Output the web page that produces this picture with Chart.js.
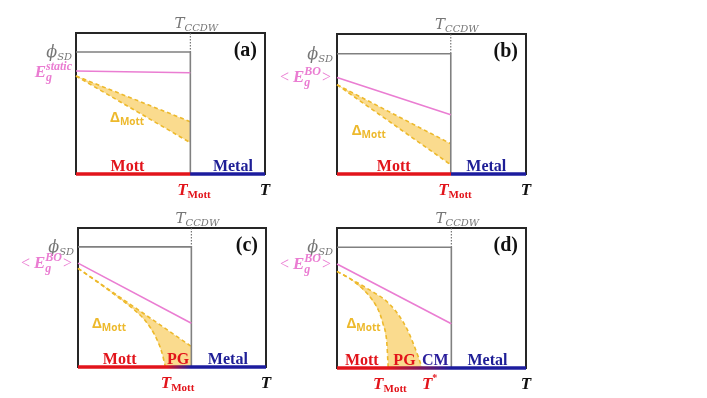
<!DOCTYPE html>
<html><head><meta charset="utf-8">
<script src="https://cdn.jsdelivr.net/npm/chart.js@4.4.1/dist/chart.umd.min.js"></script>
<style>
html,body{margin:0;padding:0;background:#fff;width:707px;height:398px;overflow:hidden}
.p{position:absolute}
</style></head><body>
<div class="p" id="w0"><canvas id="c0" width="290" height="200"></canvas></div>
<div class="p" id="w1"><canvas id="c1" width="290" height="200"></canvas></div>
<div class="p" id="w2"><canvas id="c2" width="290" height="200"></canvas></div>
<div class="p" id="w3"><canvas id="c3" width="290" height="200"></canvas></div>
<script>
// ---- data (T on x: 0..1, energy on y: 0..1) ----
const panelNames = ['(a)', '(b)', '(c)', '(d)'];
const tCCDW = [0.605, 0.602, 0.603, 0.605];
const phiSD = [0.865, 0.859, 0.864, 0.862];
const egStart = [0.73, 0.69, 0.747, 0.743];
const egEnd = [0.718, 0.424, 0.315, 0.316];
const egLabel = ['static', 'BO', 'BO', 'BO'];
const deltaUpperT = [[0, 0.605], [0, 0.602], [0, 0.603], [0, 0.1, 0.2, 0.26, 0.32, 0.37, 0.405, 0.43, 0.45]];
const deltaUpperE = [[0.695, 0.371], [0.638, 0.216], [0.71, 0.148], [0.69, 0.615, 0.535, 0.48, 0.39, 0.28, 0.17, 0.08, 0]];
const deltaLowerT = [[0, 0.605], [0, 0.602], [0, 0.1, 0.2, 0.3, 0.36, 0.41, 0.445, 0.465], [0, 0.077, 0.165, 0.218, 0.245, 0.263, 0.271]];
const deltaLowerE = [[0.695, 0.222], [0.638, 0.066], [0.71, 0.615, 0.515, 0.41, 0.33, 0.225, 0.11, 0], [0.69, 0.63, 0.524, 0.416, 0.309, 0.19, 0]];
const tMott = [0.605, 0.602, 0.47, 0.27];
const regionNames = [['Mott', 'Metal'], ['Mott', 'Metal'], ['Mott', 'PG', 'Metal'], ['Mott', 'PG', 'CM', 'Metal']];

// ---- layout (positions / styles) ----
const boxes = [{l:76,t:33,w:189,h:141},{l:337,t:34,w:189,h:140},{l:78,t:228,w:188,h:139},{l:337,t:228,w:189,h:140}];
const deltaLabelPos = [[0.18, 0.404], [0.078, 0.316], [0.074, 0.315], [0.05, 0.32]];
const regionPos = [[0.272, 0.83], [0.30, 0.79], [0.222, 0.532, 0.797], [0.131, 0.357, 0.52, 0.796]];
const tMottLabelX = [0.624, 0.624, 0.53, 0.28];
const tStarLabelX = [null, null, null, 0.49];

const LS = '"Liberation Serif", "Times New Roman", serif';
const DS = '"DejaVu Serif", serif';
const OS = '"Open Sans", sans-serif';
const RED = '#E2141B', BLUE = '#1C1C9E', GRAY = '#808080', PINK = '#EA7DD2', GOLD = '#EDB92C', FILL = '#FADB8E';
const regionColor = {Mott: RED, PG: RED, CM: '#2A1E9C', Metal: '#1E1E96'};

function pts(ts, es) { return ts.map((t, k) => ({x: t, y: es[k]})); }

function drawRich(ctx, x, y, segs, align, color) {
  const ws = []; let w = 0;
  for (const s of segs) {
    ctx.font = s.f;
    let sw = s.sup !== undefined ? Math.max(ctx.measureText(s.sup).width, ctx.measureText(s.sub).width) : ctx.measureText(s.t).width;
    sw += (s.gap || 0); ws.push(sw); w += sw;
  }
  let cx = align === 'right' ? x - w : align === 'center' ? x - w / 2 : x;
  ctx.textBaseline = 'alphabetic'; ctx.textAlign = 'left';
  segs.forEach((s, k) => {
    ctx.fillStyle = s.c || color; ctx.font = s.f;
    if (s.sup !== undefined) {
      ctx.fillText(s.sup, cx, y + s.dsup);
      ctx.fillText(s.sub, cx, y + s.dsub);
    } else ctx.fillText(s.t, cx, y + (s.dy || 0));
    cx += ws[k];
  });
}

const boxPlugin = {
  id: 'boxFrame',
  beforeDatasetsDraw(chart) {
    const a = chart.chartArea, ctx = chart.ctx;
    ctx.save(); ctx.strokeStyle = '#262626'; ctx.lineWidth = 2;
    ctx.strokeRect(a.left, a.top, a.width, a.height); ctx.restore();
  }
};

const textPlugin = {
  id: 'panelText',
  afterDraw(chart, args, opts) {
    const i = opts.idx, ctx = chart.ctx, a = chart.chartArea;
    const xs = chart.scales.x, ys = chart.scales.y;
    const px = v => xs.getPixelForValue(v), py = v => ys.getPixelForValue(v);
    ctx.save();
    // T_CCDW
    drawRich(ctx, px(tCCDW[i]) + 6, a.top - 5, [
      {t: 'T', f: 'italic 15px ' + DS},
      {t: 'CCDW', f: 'italic 10px ' + DS, dy: 3}], 'center', '#767676');
    // phi_SD
    drawRich(ctx, a.left - 4, py(phiSD[i]) + 5, [
      {t: '\u03D5', f: 'italic 16px ' + DS},
      {t: 'SD', f: 'italic 10px ' + DS, dy: 3}], 'right', '#767676');
    // E_g label
    if (egLabel[i] === 'static') {
      drawRich(ctx, a.left - 4, py(egStart[i]) + 6, [
        {t: 'E', f: 'bold italic 17px ' + LS},
        {sup: 'static', sub: 'g', f: 'bold italic 12px ' + LS, dsup: -7, dsub: 4}], 'right', PINK);
    } else {
      drawRich(ctx, a.left - 6, py(egStart[i]) + 5, [
        {t: '<', f: '16px ' + LS, gap: 4},
        {t: 'E', f: 'bold italic 17px ' + LS},
        {sup: egLabel[i], sub: 'g', f: 'bold italic 12px ' + LS, dsup: -7, dsub: 4, gap: 1},
        {t: '>', f: '16px ' + LS}], 'right', PINK);
    }
    // panel name
    drawRich(ctx, a.right - 8, a.top + 23, [{t: panelNames[i], f: 'bold 20px ' + LS}], 'right', '#111');
    // Delta_Mott
    const dp = deltaLabelPos[i];
    drawRich(ctx, px(dp[0]), py(dp[1]) + 5, [
      {t: '\u0394', f: 'bold 15px ' + OS},
      {t: 'Mott', f: 'bold 10px ' + OS, dy: 3}], 'left', GOLD);
    // regions
    regionNames[i].forEach((n, k) => {
      drawRich(ctx, px(regionPos[i][k]), a.bottom - 3.5, [{t: n, f: 'bold 16px ' + LS}], 'center', regionColor[n]);
    });
    // bottom temperature labels
    drawRich(ctx, px(tMottLabelX[i]), a.bottom + 21, [
      {t: 'T', f: 'bold italic 17px ' + LS},
      {t: 'Mott', f: 'bold 11px ' + LS, dy: 3}], 'center', RED);
    if (tStarLabelX[i] !== null) {
      drawRich(ctx, px(tStarLabelX[i]), a.bottom + 21, [
        {t: 'T', f: 'bold italic 17px ' + LS},
        {t: '*', f: 'bold 10px ' + LS, dy: -8}], 'center', RED);
    }
    drawRich(ctx, px(1), a.bottom + 21, [{t: 'T', f: 'bold italic 17px ' + LS}], 'center', '#111');
    ctx.restore();
  }
};

function makePanel(i) {
  const b = boxes[i];
  const wrap = document.getElementById('w' + i);
  wrap.style.left = (b.l - 76) + 'px'; wrap.style.top = (b.t - 33) + 'px';
  const t = tCCDW[i];
  const up = pts(deltaUpperT[i], deltaUpperE[i]);
  const lo = pts(deltaLowerT[i], deltaLowerE[i]);
  const upEnd = up[up.length - 1], loEnd = lo[lo.length - 1];
  const poly = up.slice();
  if (upEnd.y > 0 && upEnd.x > loEnd.x) poly.push({x: upEnd.x, y: 0});
  poly.push(...lo.slice().reverse());
  const gradStart = tMott[i], gradEnd = t;
  const common = {pointRadius: 0, clip: false, tension: 0};
  new Chart(document.getElementById('c' + i), {
    type: 'line',
    data: {datasets: [
      Object.assign({}, common, {data: poly, borderWidth: 0, borderColor: 'rgba(0,0,0,0)', backgroundColor: FILL, fill: 'shape', order: 10}),
      Object.assign({}, common, {data: up, borderColor: GOLD, borderWidth: 1.6, borderDash: [4, 3], fill: false, cubicInterpolationMode: 'monotone', order: 6}),
      Object.assign({}, common, {data: lo, borderColor: GOLD, borderWidth: 1.6, borderDash: [4, 3], fill: false, cubicInterpolationMode: 'monotone', order: 6}),
      Object.assign({}, common, {data: [{x: 0, y: phiSD[i]}, {x: t, y: phiSD[i]}, {x: t, y: 0}], borderColor: GRAY, borderWidth: 1.6, fill: false, order: 4}),
      Object.assign({}, common, {data: [{x: t, y: 1}, {x: t, y: phiSD[i]}], borderColor: '#6a6a6a', borderWidth: 1.1, borderDash: [1.5, 1.5], fill: false, order: 4}),
      Object.assign({}, common, {data: [{x: 0, y: egStart[i]}, {x: t, y: egEnd[i]}], borderColor: PINK, borderWidth: 1.6, fill: false, order: 3}),
      Object.assign({}, common, {data: [{x: 0, y: 0}, {x: 1, y: 0}], borderWidth: 3.5, borderCapStyle: 'butt', fill: false, order: 1,
        borderColor: (ctx) => {
          const ch = ctx.chart; if (!ch.chartArea) return RED;
          const xs = ch.scales.x;
          const g = ch.ctx.createLinearGradient(xs.getPixelForValue(0), 0, xs.getPixelForValue(1), 0);
          g.addColorStop(0, RED); g.addColorStop(gradStart, RED);
          g.addColorStop(Math.max(gradEnd, gradStart + 0.001), BLUE); g.addColorStop(1, BLUE);
          return g;
        }})
    ]},
    options: {
      responsive: false, animation: false, devicePixelRatio: 1,
      layout: {padding: {left: 76, top: 33, right: 290 - 76 - b.w, bottom: 200 - 33 - b.h}},
      scales: {
        x: {type: 'linear', min: 0, max: 1, display: false},
        y: {type: 'linear', min: 0, max: 1, display: false}
      },
      plugins: {legend: {display: false}, tooltip: {enabled: false}, panelText: {idx: i}}
    },
    plugins: [boxPlugin, textPlugin]
  });
}
[0, 1, 2, 3].forEach(makePanel);
</script>
</body></html>
